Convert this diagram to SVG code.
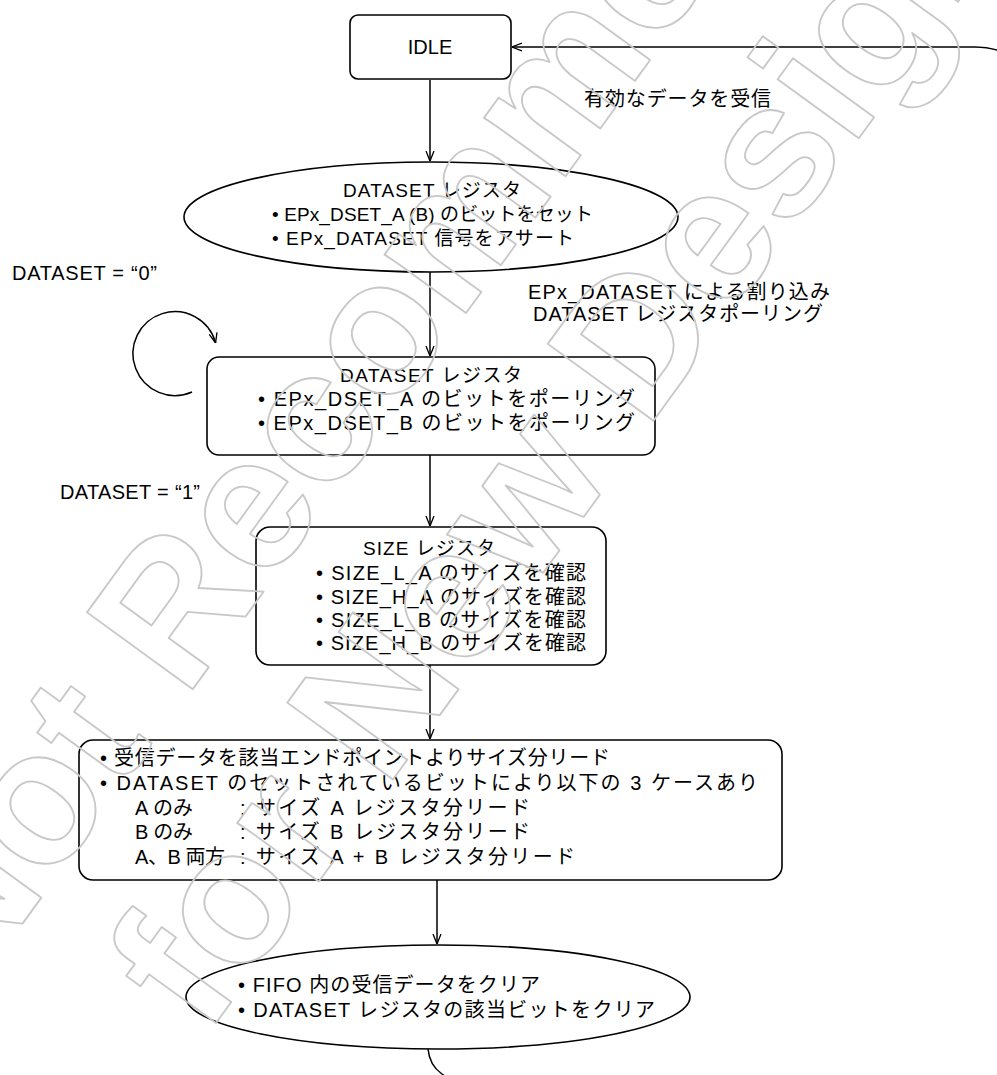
<svg xmlns="http://www.w3.org/2000/svg" width="997" height="1075" viewBox="0 0 997 1075">
<defs>
<style>
.s{fill:#fff;stroke:#000;stroke-width:1.6}
.c{fill:none;stroke:#000;stroke-width:1.5}
text{font-family:"Liberation Sans","Noto Sans CJK JP",sans-serif;font-size:20px;fill:#000}
.t{font-size:19px}
.m{text-anchor:middle}
.wm{font-family:"Liberation Sans",sans-serif;font-weight:bold;font-size:190px;fill:none;stroke:#c8c8c8;stroke-width:1.8;stroke-linejoin:round;text-anchor:middle}
</style>
<marker id="ah" viewBox="0 0 10 10" refX="10" refY="5" markerWidth="10" markerHeight="10" markerUnits="userSpaceOnUse" orient="auto">
<path d="M0,1 L10,5 L0,9" fill="none" stroke="#000" stroke-width="1.3"/>
</marker>
</defs>
<rect width="997" height="1075" fill="#fff"/>
<g id="connectors">
<path class="c" d="M430,80 L430,161" marker-end="url(#ah)"/>
<path class="c" d="M430,272 L430,356" marker-end="url(#ah)"/>
<path class="c" d="M430,455 L430,526" marker-end="url(#ah)"/>
<path class="c" d="M430,665 L430,739" marker-end="url(#ah)"/>
<path class="c" d="M437,880 L437,944" marker-end="url(#ah)"/>
<path class="c" d="M192,392 A42,42 0 1 1 215.6,343" marker-end="url(#ah)"/>
<path class="c" d="M428,1049 C430,1070 445,1082 480,1085 L960,1085 L1040,1085 L1040,100 C1035,60 1000,47 975,47 L512,47" marker-end="url(#ah)"/>
<text x="584" y="106" textLength="187">有効なデータを受信</text>
<text x="12" y="280" textLength="145">DATASET = “0”</text>
<text x="528" y="299" textLength="302">EPx_DATASET による割り込み</text>
<text x="533" y="321" textLength="290">DATASET レジスタポーリング</text>
<text x="60" y="499" textLength="140">DATASET = “1”</text>
</g>
<g id="idle">
<rect class="s" x="350" y="15" width="161" height="64" rx="8"/>
<text class="m" x="430" y="54">IDLE</text>
</g>
<g id="dataset-set">
<ellipse class="s" cx="431" cy="217" rx="247" ry="55"/>
<text class="t" x="343" y="197" textLength="178">DATASET レジスタ</text>
<text class="t" x="272" y="221" textLength="321">• EPx_DSET_A (B) のビットをセット</text>
<text class="t" x="272" y="245" textLength="302">• EPx_DATASET 信号をアサート</text>
</g>
<g id="dataset-poll">
<rect class="s" x="207" y="357" width="448" height="98" rx="12"/>
<text class="t" x="340" y="382" textLength="182">DATASET レジスタ</text>
<text x="258" y="406" textLength="377">• EPx_DSET_A のビットをポーリング</text>
<text x="258" y="430" textLength="377">• EPx_DSET_B のビットをポーリング</text>
</g>
<g id="size">
<rect class="s" x="256" y="527" width="350" height="138" rx="14"/>
<text class="t" x="363" y="555" textLength="132">SIZE レジスタ</text>
<text x="316" y="580" textLength="270">• SIZE_L_A のサイズを確認</text>
<text x="316" y="604" textLength="270">• SIZE_H_A のサイズを確認</text>
<text x="316" y="627" textLength="270">• SIZE_L_B のサイズを確認</text>
<text x="316" y="650" textLength="270">• SIZE_H_B のサイズを確認</text>
</g>
<g id="read">
<rect class="s" x="79" y="740" width="703" height="140" rx="14"/>
<text x="100" y="765" textLength="510">• 受信データを該当エンドポイントよりサイズ分リード</text>
<text x="100" y="790" textLength="658">• DATASET のセットされているビットにより以下の 3 ケースあり</text>
<text x="135" y="815" textLength="58">A のみ</text><text x="240" y="815" textLength="290">: サイズ A レジスタ分リード</text>
<text x="135" y="839" textLength="58">B のみ</text><text x="240" y="839" textLength="290">: サイズ B レジスタ分リード</text>
<text x="135" y="864" textLength="90">A、B 両方</text><text x="240" y="864" textLength="335">: サイズ A + B レジスタ分リード</text>
</g>
<g id="clear">
<ellipse class="s" cx="438" cy="997" rx="252" ry="52"/>
<text x="238" y="992" textLength="302">• FIFO 内の受信データをクリア</text>
<text x="238" y="1017" textLength="417">• DATASET レジスタの該当ビットをクリア</text>
</g>
<g id="watermark">
<text class="wm" transform="translate(477,298) rotate(-54)">Not Recommended</text>
<text class="wm" transform="translate(612,478) rotate(-54)">for New Design</text>
</g>
</svg>
